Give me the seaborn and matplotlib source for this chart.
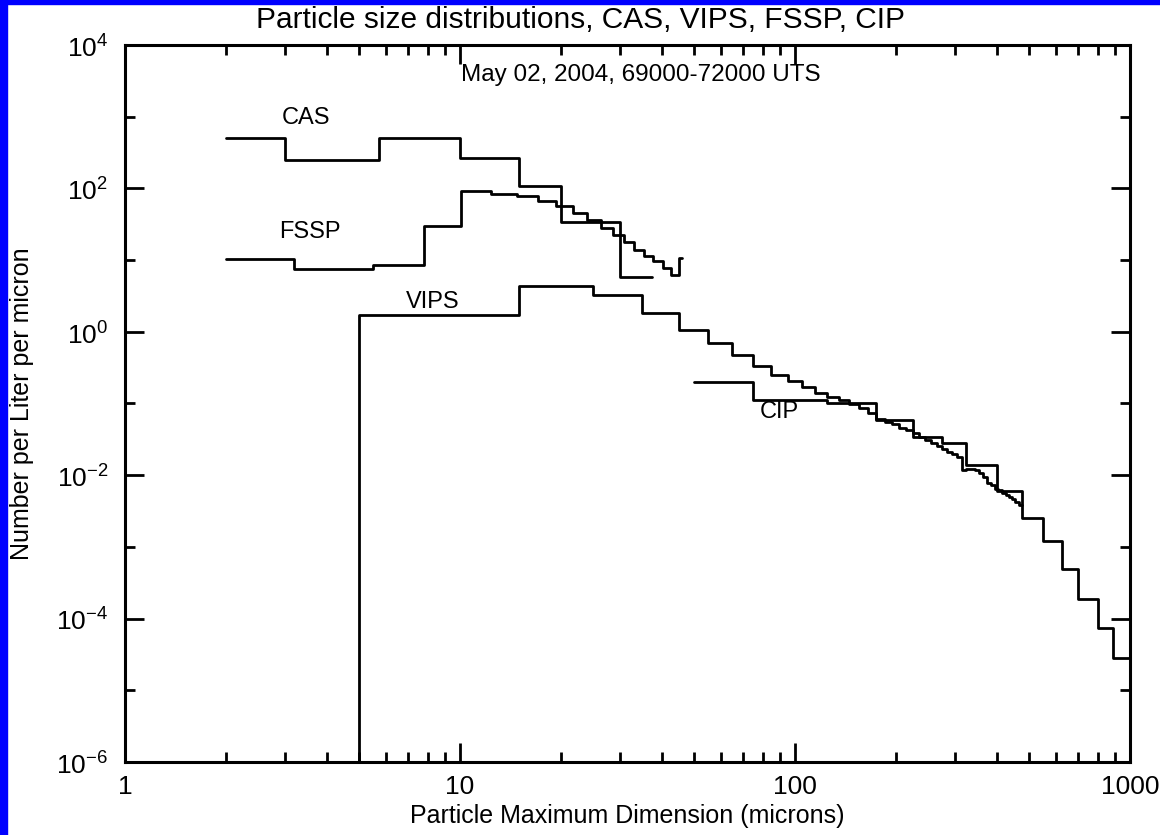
import numpy as np
import pandas as pd
import seaborn as sns
import matplotlib.pyplot as plt
from matplotlib.patches import Rectangle
from matplotlib.ticker import FixedLocator, NullFormatter

# bin edges (microns) and concentrations (#/L/micron)
cas_edges = [2.0, 3.0, 5.75, 10.0, 15.0, 20.0, 30.0, 37.5]
cas_vals = [500, 250, 510, 265, 108, 34, 5.9]

fssp_edges = [2.0, 3.2, 5.5, 7.8, 10.1, 12.4, 14.8, 17.1, 19.4, 21.7, 24.0,
              26.3, 28.6, 30.8, 33.1, 35.4, 37.8, 40.3, 42.6, 45.0, 46.0]
fssp_vals = [10.3, 7.6, 8.5, 30, 93, 84, 79, 67, 57, 45, 36, 28, 22.4,
             18.1, 13.8, 11.4, 9.7, 7.7, 6.1, 10.6]

vips_edges = [5, 15, 25, 35, 45, 55, 65, 75, 85, 95, 105, 115, 125, 135, 145,
              155, 165, 175, 185, 195, 205, 215, 225, 235, 245, 255, 265, 275,
              285, 295, 305, 315, 325, 335, 345, 355, 365, 375, 385, 395, 405,
              415, 425, 435, 445, 455, 465, 475]
vips_vals = [1.73, 4.4, 3.25, 1.83, 1.05, 0.705, 0.475, 0.333, 0.249, 0.206,
             0.168, 0.142, 0.122, 0.112, 0.098, 0.086, 0.074, 0.0605, 0.056,
             0.052, 0.0456, 0.0423, 0.0388, 0.034, 0.0313, 0.028, 0.0252,
             0.0231, 0.0213, 0.0197, 0.018, 0.012, 0.0122, 0.0124, 0.0118,
             0.0106, 0.0095, 0.0078, 0.0073, 0.0065, 0.0062, 0.0057, 0.0053,
             0.0049, 0.0046, 0.0042, 0.0039]

cip_edges = [50, 75, 125, 175, 225, 275, 325, 400, 475, 550, 625, 700, 800,
             890, 1000]
cip_vals = [0.2, 0.112, 0.103, 0.059, 0.0344, 0.0284, 0.0139, 0.0061,
            0.0025, 0.00122, 0.000487, 0.000188, 0.000073, 0.0000285]

x_ticks = [1, 10, 100, 1000]
x_ticklabels = ["1", "10", "100", "1000"]
y_exps = list(range(-6, 5, 2))


def steps(edges, vals, start_low=None):
    xs, ys = [], []
    if start_low is not None:
        xs.append(edges[0])
        ys.append(start_low)
    for i, v in enumerate(vals):
        xs += [edges[i], edges[i + 1]]
        ys += [v, v]
    return pd.DataFrame({"x": xs, "y": ys})


sns.set_style("ticks")
plt.rcParams["font.family"] = ["Liberation Sans", "DejaVu Sans"]
plt.rcParams["mathtext.fontset"] = "custom"
plt.rcParams["mathtext.rm"] = "Liberation Sans"
plt.rcParams["text.color"] = "black"
plt.rcParams["axes.labelcolor"] = "black"

fig = plt.figure(figsize=(11.6, 8.35), dpi=100)
fig.patch.set_facecolor("white")
ax = fig.add_axes([125 / 1160, 1 - 762 / 835, 1005 / 1160, 717 / 835])

series = [
    steps(cas_edges, cas_vals),
    steps(fssp_edges, fssp_vals),
    steps(vips_edges, vips_vals, start_low=1e-8),
    steps(cip_edges, cip_vals),
]
for df in series:
    sns.lineplot(data=df, x="x", y="y", ax=ax, sort=False, estimator=None,
                 color="black", lw=2.0)

ax.set_xscale("log")
ax.set_yscale("log")
ax.set_xlim(1, 1000)
ax.set_ylim(1e-6, 1e4)

ax.xaxis.set_major_locator(FixedLocator(x_ticks))
ax.xaxis.set_minor_locator(FixedLocator([m * 10 ** e for e in range(3) for m in range(2, 10)]))
ax.set_xticklabels(x_ticklabels)
ax.xaxis.set_minor_formatter(NullFormatter())

ax.yaxis.set_major_locator(FixedLocator([10.0 ** e for e in y_exps]))
ax.yaxis.set_minor_locator(FixedLocator([10.0 ** e for e in range(-5, 4, 2)]))
ax.set_yticklabels([r"$10^{%d}$" % e for e in y_exps])
ax.yaxis.set_minor_formatter(NullFormatter())

ax.tick_params(which="both", direction="in", top=True, right=True,
               width=2.0, colors="black", labelsize=19)
ax.tick_params(which="major", length=14)
ax.tick_params(which="minor", length=7)
ax.tick_params(axis="x", which="major", pad=9)
ax.tick_params(axis="y", which="major", pad=12)
for sp in ax.spines.values():
    sp.set_linewidth(2.2)
    sp.set_color("black")

ax.set_xlabel("Particle Maximum Dimension (microns)", fontsize=18, labelpad=4)
ax.set_ylabel("Number per Liter per micron", fontsize=18, labelpad=16)

fig.text(0.5, 1 - 20 / 835, "Particle size distributions, CAS, VIPS, FSSP, CIP",
         ha="center", va="center", fontsize=21.5)
ax.text(0.513, 0.958, "May 02, 2004, 69000-72000 UTS", transform=ax.transAxes,
        ha="center", va="center", fontsize=17.5)

ax.text(3.47, 960, "CAS", ha="center", va="center", fontsize=17)
ax.text(3.57, 24.7, "FSSP", ha="center", va="center", fontsize=17)
ax.text(8.3, 2.6, "VIPS", ha="center", va="center", fontsize=17)
ax.text(90, 0.076, "CIP", ha="center", va="center", fontsize=17)

# blue slide border on the left and top edges
fig.patches.append(Rectangle((0, 0), 7 / 1160, 1, transform=fig.transFigure,
                             color="#0000ff", zorder=-1))
fig.patches.append(Rectangle((0, 1 - 4 / 835), 1, 4 / 835, transform=fig.transFigure,
                             color="#0000ff", zorder=-1))

fig.savefig("out.png", dpi=100)
